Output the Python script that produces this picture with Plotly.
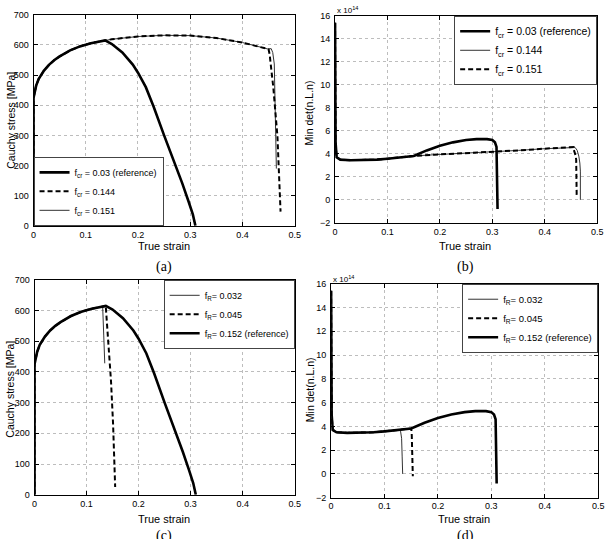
import plotly.graph_objects as go

W, H = 613, 539

# ---------------- data ----------------
# stress-strain: common hardening branch
hard_strain = [0, 0, 0.005, 0.01, 0.02, 0.03, 0.04, 0.05, 0.07, 0.09, 0.11, 0.137]
hard_stress = [0, 425, 465, 488, 515, 535, 550, 562, 582, 596, 606, 615]
# reference softening branch
desc_strain = [0.15, 0.17, 0.19, 0.2, 0.215, 0.23, 0.25, 0.27, 0.285, 0.297, 0.305, 0.31]
desc_stress = [603, 575, 535, 508, 460, 395, 300, 210, 140, 80, 38, 0]
# plateau for f_cr = 0.144 / 0.151
plat_strain = [0.15, 0.2, 0.25, 0.3, 0.35, 0.4, 0.43, 0.45]
plat_stress = [619, 628, 632, 631, 623, 608, 596, 586]
drop144_strain = [0.452, 0.459, 0.467, 0.470, 0.473]
drop144_stress = [570, 461, 298, 190, 47]
drop151_strain = [0.455, 0.458, 0.461, 0.463, 0.465]
drop151_stress = [588, 575, 537, 400, 190]
# f_R cases (c)
fR032_strain = [0.131, 0.133, 0.135]
fR032_stress = [612, 520, 428]
fR045_strain = [0.137, 0.142, 0.147, 0.151, 0.154, 0.155]
fR045_stress = [612, 500, 370, 230, 100, 25]

# min det(n.L.n) (x 1e14)
det_low_strain = [0, 0.001, 0.003, 0.01, 0.03, 0.05, 0.08, 0.1, 0.13]
det_low_val = [15.4, 5.0, 3.7, 3.5, 3.45, 3.45, 3.5, 3.58, 3.7]
det_bump_strain = [0.15, 0.175, 0.2, 0.225, 0.25, 0.27, 0.29, 0.3, 0.305, 0.308, 0.309, 0.31]
det_bump_val = [3.82, 4.3, 4.7, 5.0, 5.2, 5.28, 5.28, 5.2, 5.0, 4.6, 2.0, -0.8]
det_plat_strain = [0.15, 0.2, 0.25, 0.3, 0.35, 0.4, 0.45, 0.455]
det_plat_val = [3.82, 3.95, 4.05, 4.15, 4.3, 4.45, 4.58, 4.6]
det144_strain = [0.458, 0.462, 0.465, 0.467, 0.468, 0.468]
det144_val = [4.55, 4.3, 3.8, 3.2, 2.5, 0.0]
det151_strain = [0.455, 0.458, 0.46, 0.461, 0.461]
det151_val = [4.4, 4.0, 3.5, 2.0, 0.3]
detR032_strain = [0.13, 0.132, 0.133, 0.134]
detR032_val = [3.6, 3.0, 1.5, 0.0]
detR045_strain = [0.15, 0.151, 0.152, 0.153]
detR045_val = [3.82, 3.3, 1.5, -0.2]

x_ticks = [0, 0.1, 0.2, 0.3, 0.4, 0.5]
x_tick_text = ["0", "0.1", "0.2", "0.3", "0.4", "0.5"]
stress_ticks = [0, 100, 200, 300, 400, 500, 600, 700]
det_ticks = [-2, 0, 2, 4, 6, 8, 10, 12, 14, 16]

names_a = ["f<sub>cr</sub> = 0.03 (reference)", "f<sub>cr</sub> = 0.144", "f<sub>cr</sub> = 0.151"]
names_c = ["f<sub>R</sub>= 0.032", "f<sub>R</sub>= 0.045", "f<sub>R</sub>= 0.152 (reference)"]

# ---------------- styling ----------------
FONT = "Liberation Sans, Arial, sans-serif"
SERIF = "Liberation Serif, Times New Roman, serif"
THICK = dict(color="black", width=2.6)
DASH = dict(color="black", width=2, dash="5px,3px")
THIN = dict(color="#333333", width=1)

ref_x = hard_strain + desc_strain
ref_s = hard_stress + desc_stress
det_ref_x = det_low_strain + det_bump_strain
det_ref_v = det_low_val + det_bump_val

fig = go.Figure()

def add(x, y, name, line, ax, legend, rank):
    fig.add_trace(go.Scatter(
        x=x, y=y, mode="lines", name=name, line=line,
        xaxis="x" + ("" if ax == 1 else str(ax)),
        yaxis="y" + ("" if ax == 1 else str(ax)),
        legend=legend, legendrank=rank))

# (a)
add(hard_strain + plat_strain + drop151_strain, hard_stress + plat_stress + drop151_stress,
    names_a[2], THIN, 1, "legend", 3)
add(hard_strain + plat_strain + drop144_strain, hard_stress + plat_stress + drop144_stress,
    names_a[1], DASH, 1, "legend", 2)
add(ref_x, ref_s, names_a[0], THICK, 1, "legend", 1)

# (b)
add(det_low_strain + det_plat_strain + det144_strain, det_low_val + det_plat_val + det144_val,
    names_a[1], THIN, 2, "legend2", 2)
add(det_low_strain + det_plat_strain + det151_strain, det_low_val + det_plat_val + det151_val,
    names_a[2], DASH, 2, "legend2", 3)
add(det_ref_x, det_ref_v, names_a[0], THICK, 2, "legend2", 1)

# (c)
add(hard_strain[:-1] + fR032_strain, hard_stress[:-1] + fR032_stress, names_c[0], THIN, 3, "legend3", 1)
add(hard_strain + fR045_strain, hard_stress + fR045_stress, names_c[1], DASH, 3, "legend3", 2)
add(ref_x, ref_s, names_c[2], THICK, 3, "legend3", 3)

# (d)
add(det_low_strain + detR032_strain, det_low_val + detR032_val, names_c[0], THIN, 4, "legend4", 1)
add(det_low_strain + detR045_strain, det_low_val + detR045_val, names_c[1], DASH, 4, "legend4", 2)
add(det_ref_x, det_ref_v, names_c[2], THICK, 4, "legend4", 3)

def px(v):
    return v / W

def py(v):
    return 1 - v / H

AXCOMMON = dict(showline=True, linecolor="black", linewidth=1, mirror="allticks",
                ticks="inside", ticklen=4, tickcolor="black", showgrid=True, gridcolor="#bdbdbd",
                griddash="dot", gridwidth=1, zeroline=False,
                tickfont=dict(family=FONT, size=9, color="black"))

def xaxis(l, r, anchor):
    return dict(domain=[px(l), px(r)], range=[0, 0.5], tickvals=x_ticks, ticktext=x_tick_text,
                anchor=anchor, ticklabelstandoff=0, **AXCOMMON)

def yaxis(t, b, anchor, rng, tv):
    return dict(domain=[py(b), py(t)], range=rng, tickvals=tv,
                anchor=anchor, ticklabelstandoff=2, **AXCOMMON)

def legend(x, y, xanchor, yanchor, size):
    return dict(x=px(x), y=py(y), xanchor=xanchor, yanchor=yanchor, bgcolor="white",
                bordercolor="#444444", borderwidth=1, font=dict(family=FONT, size=size, color="black"),
                tracegroupgap=0, itemwidth=30)

leg_a = legend(31, 225, "left", "bottom", 9)
leg_b = legend(603, 11, "right", "top", 10.5)
leg_c = legend(296, 280, "right", "top", 9)
leg_d = legend(604, 284, "right", "top", 9.5)

anns = []
def ann(x, y, text, size=11, angle=0, family=FONT, yanchor="middle", xanchor="center"):
    anns.append(dict(x=px(x), y=py(y), xref="paper", yref="paper", text=text, showarrow=False,
                     textangle=angle, font=dict(family=family, size=size, color="black"),
                     xanchor=xanchor, yanchor=yanchor))

ann(8, 117, "Cauchy stress [MPa]", 10.5, -90)
ann(311, 110, "Min det(n.L.n)", 10.5, -90)
ann(7, 391, "Cauchy stress [MPa]", 10.5, -90)
ann(311, 392, "Min det(n.L.n)", 10.5, -90)
ann(163, 246, "True strain", 11)
ann(469, 246, "True strain", 11)
ann(163, 524, "True strain", 11)
ann(468, 524, "True strain", 11)
ann(163, 267, "(a)", 14, family=SERIF)
ann(469, 267, "(b)", 14, family=SERIF)
ann(163, 531, "(c)", 14, family=SERIF, yanchor="top")
ann(469, 531, "(d)", 14, family=SERIF, yanchor="top")
ann(337, 5, "x 10<sup>14</sup>", 8, xanchor="left")
ann(333, 279, "x 10<sup>14</sup>", 8, xanchor="left")

fig.update_layout(
    width=W, height=H, margin=dict(l=0, r=0, t=0, b=0),
    paper_bgcolor="white", plot_bgcolor="white",
    font=dict(family=FONT, color="black"),
    xaxis=xaxis(31, 296, "y"),
    yaxis=yaxis(10, 225, "x", [0, 700], stress_ticks),
    xaxis2=xaxis(337, 603, "y2"),
    yaxis2=yaxis(11, 222, "x2", [-2, 16], det_ticks),
    xaxis3=xaxis(32, 296, "y3"),
    yaxis3=yaxis(280, 499, "x3", [0, 700], stress_ticks),
    xaxis4=xaxis(333, 604, "y4"),
    yaxis4=yaxis(284, 502, "x4", [-2, 16], det_ticks),
    legend=leg_a, legend2=leg_b, legend3=leg_c, legend4=leg_d,
    annotations=anns,
)

fig.write_html("out.html")
